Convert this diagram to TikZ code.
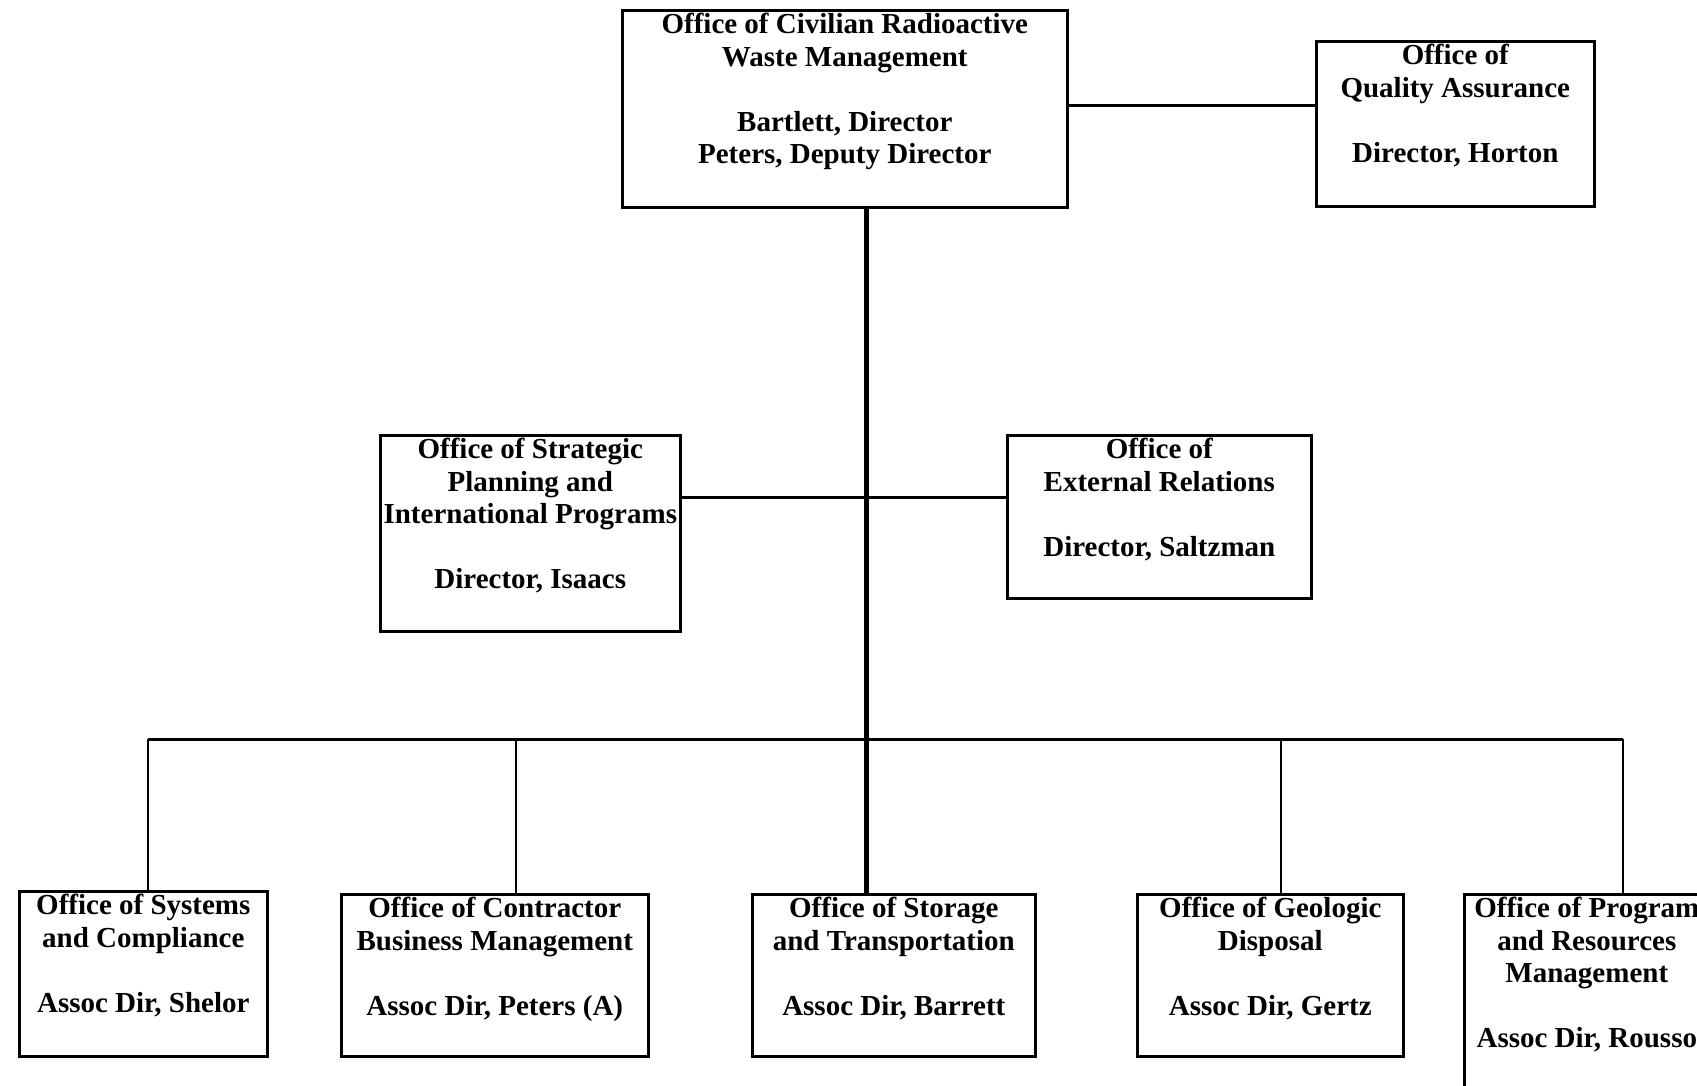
\documentclass[tikz,border=0pt]{standalone}
\usepackage{fontspec}
\setmainfont{Liberation Serif}
\newcommand\obox[3]{\parbox[c][#2][t]{#1}{\vspace*{3pt}\centering #3}}
\begin{document}
\begin{tikzpicture}[x=1pt,y=-1pt,
  office/.style={draw, line width=2.6pt, inner sep=0pt, anchor=north west,
    font=\fontsize{29}{32.5}\selectfont\bfseries},
  link/.style={line width=3pt},
  drop/.style={line width=2.2pt},
  trunk/.style={line width=5pt}]
\useasboundingbox (0,0) rectangle (1697,1086);
\fill[white] (0,0) rectangle (1697,1086);

\node[office] (top) at (621,9) {\obox{445pt}{197pt}{Office of Civilian Radioactive\\ Waste Management\\[32.5pt] Bartlett, Director\\ Peters, Deputy Director}};
\node[office] (qa) at (1315,40) {\obox{278pt}{165pt}{Office of\\ Quality Assurance\\[32.5pt] Director, Horton}};
\node[office] (strat) at (379,434) {\obox{300pt}{196pt}{Office of Strategic\\ Planning and\\ International Programs\\[32.5pt] Director, Isaacs}};
\node[office] (ext) at (1006,434) {\obox{304pt}{163pt}{Office of\\ External Relations\\[32.5pt] Director, Saltzman}};
\node[office] (sys) at (18,890) {\obox{248pt}{165pt}{Office of Systems\\ and Compliance\\[32.5pt] Assoc Dir, Shelor}};
\node[office] (con) at (340,893) {\obox{307pt}{162pt}{Office of Contractor\\ Business Management\\[32.5pt] Assoc Dir, Peters (A)}};
\node[office] (sto) at (751,893) {\obox{283pt}{162pt}{Office of Storage\\ and Transportation\\[32.5pt] Assoc Dir, Barrett}};
\node[office] (geo) at (1136,893) {\obox{266pt}{162pt}{Office of Geologic\\ Disposal\\[32.5pt] Assoc Dir, Gertz}};
\node[office] (prog) at (1463,893) {\obox{245pt}{240pt}{Office of Program\\ and Resources\\ Management\\[32.5pt] Assoc Dir, Rousso}};

% helper coordinates
\coordinate (tx) at (866,0);
\coordinate (hy) at (0,497);
\coordinate (d1) at (148,739);
\coordinate (d2) at (516,739);
\coordinate (d3) at (866,739);
\coordinate (d4) at (1281,739);
\coordinate (d5) at (1623,739);

% connectors
\draw[link] ([yshift=3.5pt]top.east) -- ([yshift=3.5pt]top.east -| qa.west);
\draw[trunk] (top.south -| tx) -- (sto.north -| tx);
\draw[link] (strat.east |- hy) -- (ext.west |- hy);
\draw[link] (d1) -- (d5);
\draw[drop] (d1) -- (d1 |- sys.north);
\draw[drop] (d2) -- (d2 |- con.north);
\draw[drop] (d4) -- (d4 |- geo.north);
\draw[drop] (d5) -- (d5 |- prog.north);
\end{tikzpicture}
\end{document}
